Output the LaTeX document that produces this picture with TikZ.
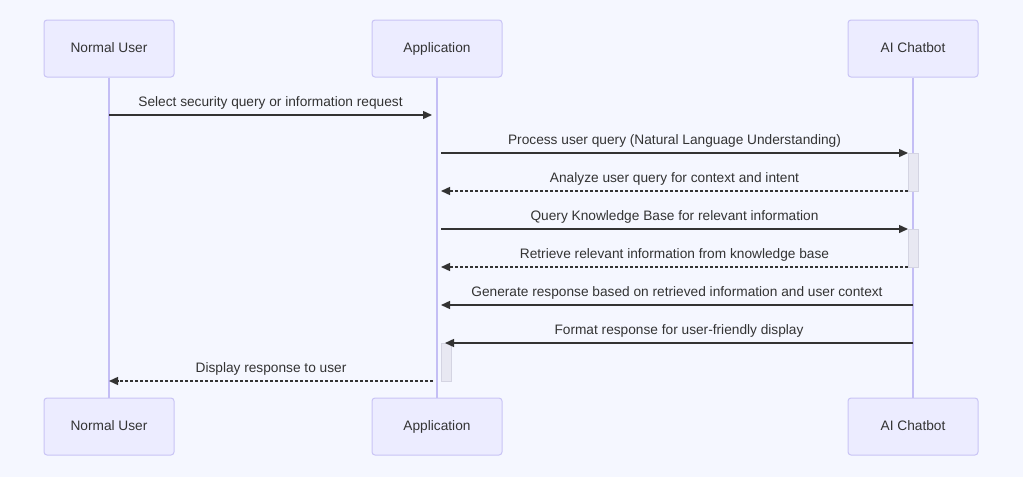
\documentclass[tikz,border=0pt]{standalone}
\usepackage{fontspec}
\setmainfont{Liberation Sans}
\usetikzlibrary{arrows.meta}
\definecolor{bg}{HTML}{F5F7FF}
\definecolor{actfill}{HTML}{ECECFF}
\definecolor{actdraw}{HTML}{C9C4F5}
\definecolor{lifec}{HTML}{C4BEF5}
\definecolor{barfill}{HTML}{E8E8F2}
\definecolor{bardraw}{HTML}{D4D4E2}
\definecolor{txt}{HTML}{333333}
\begin{document}
\begin{tikzpicture}[x=1pt,y=-1pt,
  actor/.style={draw=actdraw,fill=actfill,line width=1pt,rounded corners=3pt,minimum width=130pt,minimum height=57pt,inner sep=0pt,text=txt,text height=10pt,text depth=3pt,font=\fontsize{13.7}{16}\selectfont},
  life/.style={draw=lifec,line width=1.3pt},
  actbar/.style={draw=bardraw,fill=barfill,line width=1pt,minimum width=10pt,minimum height=38pt,inner sep=0pt},
  msg/.style={draw=txt,line width=1.4pt,-{Triangle[length=9pt,width=8pt]}},
  reply/.style={msg,dash pattern=on 3pt off 2pt},
  lbl/.style={text=txt,font=\fontsize{13.7}{16}\selectfont,inner sep=0pt,text height=10pt,text depth=3pt}]
\fill[bg] (0,0) rectangle (1023,477);
\useasboundingbox (0,0) rectangle (1023,477);
% actors
\node[actor] (u) at (109,48.5) {Normal User};
\node[actor] (a) at (437,48.5) {Application};
\node[actor] (c) at (913,48.5) {AI Chatbot};
\node[actor] (ub) at (109,426.5) {Normal User};
\node[actor] (ab) at (437,426.5) {Application};
\node[actor] (cb) at (913,426.5) {AI Chatbot};
% lifelines
\draw[life] (u.south) -- (ub.north);
\draw[life] (a.south) -- (ab.north);
\draw[life] (c.south) -- (cb.north);
% activation bars
\node[actbar] (b1) at (913,172) {};
\node[actbar] (b2) at (913,248) {};
\node[actbar] (b3) at (446,362) {};
% message end points
\coordinate (m1s) at (109,115); \coordinate (m1e) at (432,115);
\coordinate (m2s) at (441,153); \coordinate (m2e) at (908,153);
\coordinate (m3s) at (908,191); \coordinate (m3e) at (441,191);
\coordinate (m4s) at (441,229); \coordinate (m4e) at (908,229);
\coordinate (m5s) at (908,267); \coordinate (m5e) at (441,267);
\coordinate (m6s) at (913,305); \coordinate (m6e) at (441,305);
\coordinate (m7s) at (913,343); \coordinate (m7e) at (445,343);
\coordinate (m8s) at (433,381); \coordinate (m8e) at (109,381);
% messages
\draw[msg] (m1s) -- (m1e) node[lbl,midway,yshift=12.5pt] {Select security query or information request};
\draw[msg] (m2s) -- (m2e) node[lbl,midway,yshift=12.5pt] {Process user query (Natural Language Understanding)};
\draw[reply] (m3s) -- (m3e) node[lbl,midway,yshift=12.5pt] {Analyze user query for context and intent};
\draw[msg] (m4s) -- (m4e) node[lbl,midway,yshift=12.5pt] {Query Knowledge Base for relevant information};
\draw[reply] (m5s) -- (m5e) node[lbl,midway,yshift=12.5pt] {Retrieve relevant information from knowledge base};
\draw[msg] (m6s) -- (m6e) node[lbl,midway,yshift=12.5pt] {Generate response based on retrieved information and user context};
\draw[msg] (m7s) -- (m7e) node[lbl,midway,yshift=12.5pt] {Format response for user-friendly display};
\draw[reply] (m8s) -- (m8e) node[lbl,midway,yshift=12.5pt] {Display response to user};
\end{tikzpicture}
\end{document}
